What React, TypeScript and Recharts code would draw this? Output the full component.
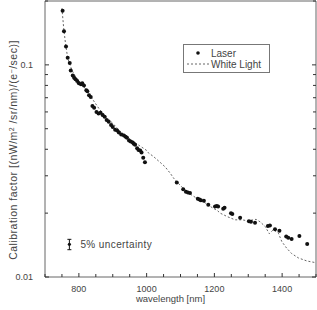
import { ComposedChart, XAxis, YAxis, Scatter, Line, Legend, ErrorBar } from 'recharts';

// laser calibration points (wavelength nm, factor)
const laserWavelength = [
  752, 756, 762, 767, 773, 776, 782, 786, 790, 795, 800, 806, 810, 815, 822, 825, 830, 835, 840, 845,
  852, 858, 864, 870, 876, 882, 888, 895, 900, 907, 913, 918, 925, 933, 938, 942, 948, 953, 959, 962,
  966, 972, 976, 981, 985, 990, 995, 1089, 1108, 1116, 1122, 1128, 1151, 1156, 1160, 1169, 1182, 1202,
  1207, 1211, 1226, 1230, 1249, 1253, 1276, 1302, 1308, 1320, 1358, 1364, 1379, 1392, 1412, 1418, 1428,
  1451, 1474,
];
const laserFactor = [
  0.18, 0.144, 0.122, 0.108, 0.102, 0.094, 0.089, 0.087, 0.0855, 0.084, 0.082, 0.081, 0.082, 0.08, 0.076,
  0.075, 0.072, 0.0705, 0.064, 0.0627, 0.06, 0.059, 0.0595, 0.058, 0.057, 0.055, 0.054, 0.052, 0.051,
  0.0495, 0.049, 0.048, 0.047, 0.0465, 0.0458, 0.0453, 0.044, 0.0435, 0.043, 0.0425, 0.042, 0.0405,
  0.0397, 0.0395, 0.0386, 0.0365, 0.0347, 0.0279, 0.0259, 0.0252, 0.025, 0.0249, 0.0234, 0.0232, 0.023,
  0.0229, 0.0219, 0.0215, 0.0216, 0.0215, 0.021, 0.0212, 0.02, 0.0198, 0.019, 0.0183, 0.0182, 0.018,
  0.0174, 0.0175, 0.0168, 0.0165, 0.0155, 0.0153, 0.0151, 0.0156, 0.0143,
];

// white light curve
const whiteWavelength = [
  750, 755, 760, 765, 770, 780, 790, 800, 820, 840, 860, 880, 900, 920, 940, 960, 980, 1000, 1005, 1020,
  1040, 1055, 1070, 1080, 1090, 1110, 1130, 1150, 1170, 1190, 1210, 1217, 1240, 1261, 1281, 1300, 1323,
  1335, 1350, 1362, 1374, 1389, 1399, 1413, 1428, 1448, 1473, 1497,
];
const whiteFactor = [
  0.185, 0.15, 0.128, 0.113, 0.104, 0.094, 0.088, 0.084, 0.077, 0.069, 0.062, 0.057, 0.053, 0.049, 0.046,
  0.0435, 0.0415, 0.0395, 0.0385, 0.037, 0.0347, 0.033, 0.0308, 0.0292, 0.028, 0.026, 0.0245, 0.0234,
  0.0225, 0.0214, 0.0205, 0.02, 0.0192, 0.0186, 0.0186, 0.0184, 0.0187, 0.0182, 0.0173, 0.016, 0.0167,
  0.0161, 0.0147, 0.0137, 0.0129, 0.0123, 0.0119, 0.0117,
];

// "5% uncertainty" marker
const noteWavelength = [772];
const noteFactor = [0.01425];
const noteError = [0.0008];

const xTicks = [700, 750, 800, 850, 900, 950, 1000, 1050, 1100, 1150, 1200, 1250, 1300, 1350, 1400, 1450, 1500];
const xLabels = [800, 1000, 1200, 1400];
const yTicks = [0.01, 0.02, 0.03, 0.04, 0.05, 0.06, 0.07, 0.08, 0.09, 0.1, 0.2];
const yLabels = [0.01, 0.1];

const laserData = laserWavelength.map((wl, i) => ({ wl, cf: laserFactor[i] }));
const whiteData = whiteWavelength.map((wl, i) => ({ wl, cf: whiteFactor[i] }));
const noteData = noteWavelength.map((wl, i) => ({ wl, cf: noteFactor[i], err: noteError[i] }));

const TICK = '#333';
const TEXT = '#444';

const BottomTick = ({ x, y, payload }: any) => {
  const major = xLabels.includes(payload.value);
  return (
    <g>
      <line x1={x} x2={x} y1={y} y2={y - (major ? 4 : 3)} stroke={TICK} />
      {major && (
        <text x={x} y={y + 15} textAnchor="middle" fontSize={9} fill={TEXT}>
          {payload.value}
        </text>
      )}
    </g>
  );
};

const TopTick = ({ x, y, payload }: any) => {
  const major = xLabels.includes(payload.value);
  return <line x1={x} x2={x} y1={y} y2={y + (major ? 4 : 3)} stroke={TICK} />;
};

const LeftTick = ({ x, y, payload }: any) => {
  const major = yLabels.includes(payload.value);
  return (
    <g>
      <line x1={x} x2={x + (major ? 4 : 3)} y1={y} y2={y} stroke={TICK} />
      {major && (
        <text x={x - 12} y={y + 3} textAnchor="end" fontSize={9} fill={TEXT}>
          {payload.value}
        </text>
      )}
    </g>
  );
};

const RightTick = ({ x, y, payload }: any) => {
  const major = yLabels.includes(payload.value);
  return <line x1={x} x2={x - (major ? 4 : 3)} y1={y} y2={y} stroke={TICK} />;
};

const YTitle = (props: any) => {
  const vb = props.viewBox || { x: 0, y: 1, width: 45, height: 276 };
  const cx = vb.x + 17;
  const cy = vb.y + vb.height / 2 + 11;
  return (
    <text
      x={cx}
      y={cy}
      transform={`rotate(-90 ${cx} ${cy})`}
      textAnchor="middle"
      fontSize={10.5}
      letterSpacing={0.5}
      fill={TEXT}
    >
      Calibration factor [(nW/m
      <tspan fontSize={7} dy={-3}>2</tspan>
      <tspan dy={3}> /sr/nm)/(e</tspan>
      <tspan fontSize={7} dy={-3}>−</tspan>
      <tspan dy={3}>/sec)]</tspan>
    </text>
  );
};

const XTitle = (props: any) => {
  const vb = props.viewBox || { x: 45, y: 277, width: 271, height: 33 };
  return (
    <text x={vb.x + vb.width / 2 - 10} y={vb.y + 25} textAnchor="middle" fontSize={9.5} fill={TEXT}>
      wavelength [nm]
    </text>
  );
};

const LaserDot = ({ cx, cy }: any) => <circle cx={cx} cy={cy} r={2} fill="#111" />;

const NoteDot = ({ cx, cy }: any) => (
  <g>
    <circle cx={cx} cy={cy} r={1.6} fill="#111" />
    <text x={cx + 11} y={cy + 3.5} fontSize={10} fill={TEXT} letterSpacing={0.4}>
      5% uncertainty
    </text>
  </g>
);

const renderLegend = () => (
  <svg width={87} height={29}>
    <rect x={0.5} y={0.5} width={86} height={28} fill="#fff" stroke="#777" />
    <circle cx={15} cy={9} r={1.8} fill="#111" />
    <text x={28} y={12.5} fontSize={10} fill={TEXT}>Laser</text>
    <line x1={4} x2={27} y1={20} y2={20} stroke="#666" strokeDasharray="2 2" />
    <text x={28} y={23.5} fontSize={10} fill={TEXT}>White Light</text>
  </svg>
);

export default function App() {
  return (
    <div
      style={{
        position: 'absolute',
        left: 0,
        top: 0,
        width: 317,
        height: 310,
        background: '#fff',
        fontFamily: '"Liberation Sans", Arial, sans-serif',
      }}
    >
      <ComposedChart width={317} height={310} margin={{ top: 0, right: 0, bottom: 0, left: 0 }}>
        <XAxis
          xAxisId="b"
          dataKey="wl"
          type="number"
          domain={[700, 1500]}
          ticks={xTicks}
          interval={0}
          height={33}
          tickSize={0}
          tickMargin={0}
          tickLine={false}
          tick={<BottomTick />}
          axisLine={{ stroke: '#666' }}
          label={<XTitle />}
        />
        <XAxis
          xAxisId="t"
          orientation="top"
          type="number"
          domain={[700, 1500]}
          ticks={xTicks}
          interval={0}
          height={1}
          tickSize={0}
          tickMargin={0}
          tickLine={false}
          tick={<TopTick />}
          axisLine={{ stroke: '#666' }}
        />
        <YAxis
          yAxisId="l"
          dataKey="cf"
          scale="log"
          type="number"
          domain={[0.01, 0.2]}
          allowDataOverflow
          ticks={yTicks}
          interval={0}
          width={45}
          tickSize={0}
          tickMargin={0}
          tickLine={false}
          tick={<LeftTick />}
          axisLine={{ stroke: '#666' }}
          label={<YTitle />}
        />
        <YAxis
          yAxisId="r"
          orientation="right"
          scale="log"
          type="number"
          domain={[0.01, 0.2]}
          allowDataOverflow
          ticks={yTicks}
          interval={0}
          width={1}
          tickSize={0}
          tickMargin={0}
          tickLine={false}
          tick={<RightTick />}
          axisLine={{ stroke: '#666' }}
        />
        <Legend
          layout="horizontal"
          verticalAlign="middle"
          align="center"
          content={renderLegend}
          wrapperStyle={{ position: 'absolute', left: 183, top: 44, width: 87, height: 29 }}
        />
        <Line
          xAxisId="b"
          yAxisId="l"
          name="White Light"
          data={whiteData}
          dataKey="cf"
          type="linear"
          stroke="#666"
          strokeWidth={1}
          strokeDasharray="2 2"
          dot={false}
          activeDot={false}
          isAnimationActive={false}
        />
        <Scatter
          xAxisId="b"
          yAxisId="l"
          name="Laser"
          data={laserData}
          dataKey="cf"
          shape={<LaserDot />}
          isAnimationActive={false}
        />
        <Scatter
          xAxisId="b"
          yAxisId="l"
          name="note"
          data={noteData}
          dataKey="cf"
          legendType="none"
          shape={<NoteDot />}
          isAnimationActive={false}
        >
          <ErrorBar dataKey="err" direction="y" width={2} stroke="#111" strokeWidth={1} isAnimationActive={false} />
        </Scatter>
      </ComposedChart>
    </div>
  );
}
